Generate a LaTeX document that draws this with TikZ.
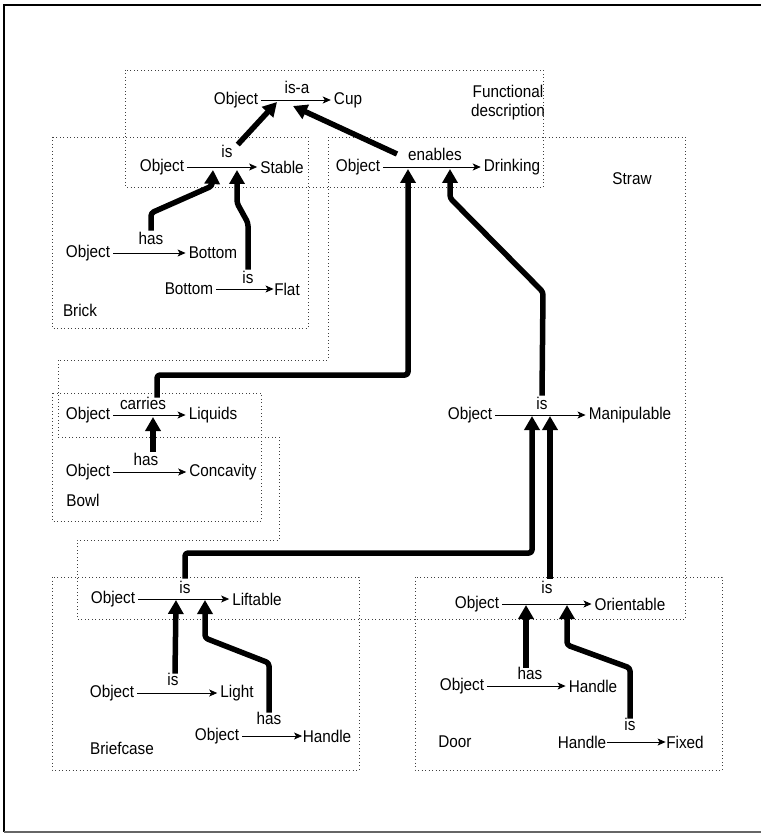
\documentclass[tikz,border=0pt]{standalone}
\usepackage{fontspec}
\setmainfont{Liberation Sans}[FakeStretch=0.9]
\usetikzlibrary{arrows.meta}
\tikzset{
  txt/.style={font=\fontsize{17}{19}\selectfont, inner xsep=3pt, inner ysep=2pt},
  tight/.style={txt, inner xsep=0.5pt},
  lbl/.style={font=\fontsize{17}{19}\selectfont, inner sep=1pt},
  thinarrow/.style={-{Stealth[length=8pt,width=7pt,inset=2pt]}, line width=0.8pt},
  thickarrow/.style={-{Triangle[length=14pt,width=15pt]}, line width=5.5pt, line join=round, rounded corners=3pt},
  dotbox/.style={black!75, line width=0.8pt, dash pattern=on 0.9pt off 2.6pt},
}
\begin{document}
\begin{tikzpicture}[x=1pt,y=-1pt]
\useasboundingbox (0,0) rectangle (762,834);
% frame
\draw[line width=1.5pt] (4,832) -- (4,5) -- (761,5);
\draw[black!60, line width=1.2pt] (4,832) -- (761,832);

% dotted boxes
\draw[dotbox] (125,70) rectangle (543,187);
\draw[dotbox] (52,137) rectangle (308,328);
\draw[dotbox] (328,137) -- (685,137) -- (685,619) -- (77,619) -- (77,540) -- (279,540) -- (279,437) -- (58,437) -- (58,360) -- (328,360) -- cycle;
\draw[dotbox] (52,393) rectangle (261,521);
\draw[dotbox] (52,577) rectangle (359,770);
\draw[dotbox] (415,577) rectangle (722,770);

% functional description
\node[txt] (fo) at (236,100) {Object};
\node[txt] (fc) at (348,100) {Cup};
\node[lbl] (fl) at (297,87) {is-a};
\draw[thinarrow] (fo.east) -- (fc.west);
\node[lbl, align=center] (fd) at (508,103) {Functional\\description};
\coordinate (cupA) at (277,102);
\coordinate (cupB) at (293,106);

% stable
\node[txt] (so) at (162,167) {Object};
\node[txt] (st) at (282,167) {Stable};
\node[lbl] (sl) at (227,151) {is};
\draw[thinarrow] (so.east) -- (st.west);
\coordinate (stA) at (213,170);
\coordinate (stB) at (237,170);

% drinking
\node[txt] (dob) at (358,167) {Object};
\node[txt] (dr) at (512,167) {Drinking};
\node[lbl] (dl) at (435,154) {enables};
\draw[thinarrow] (dob.east) -- (dr.west);
\coordinate (drA) at (408,169);
\coordinate (drB) at (450,169);

\draw[thickarrow] ([xshift=4pt,yshift=-1pt]sl.north east) -- (cupA);
\draw[thickarrow] ([xshift=-10pt]dl.west) -- (cupB);

% brick
\node[txt] (bo1) at (88,253) {Object};
\node[txt] (bb1) at (213,253) {Bottom};
\node[lbl] (bh) at (151,238) {has};
\draw[thinarrow] (bo1.east) -- (bb1.west);
\node[txt] (bb2) at (189,289) {Bottom};
\node[tight] (bf) at (287,289) {Flat};
\node[lbl] (bi) at (248,277) {is};
\draw[thinarrow] (bb2.east) -- (bf.west);
\node[lbl] (brick) at (80,310) {Brick};
\draw[thickarrow] (bh.north) -- (151,213) -- (212,186) -- (stA);
\draw[thickarrow] (bi.north) -- (248,223) -- (237,203) -- (stB);

% bowl
\node[txt] (lo) at (88,415) {Object};
\node[txt] (lq) at (213,415) {Liquids};
\node[lbl] (lc) at (143,403) {carries};
\draw[thinarrow] (lo.east) -- (lq.west);
\coordinate (lqA) at (153,417);
\node[txt] (co) at (88,472) {Object};
\node[txt] (cc) at (223,472) {Concavity};
\node[lbl] (ch) at (146,459) {has};
\draw[thinarrow] (co.east) -- (cc.west);
\node[lbl] (bowl) at (83,500) {Bowl};
\draw[thickarrow] ([xshift=7pt]ch.north) -- (lqA);
\draw[thickarrow] ([xshift=14pt,yshift=-2pt]lc.north) -- (157,375) -- (408,375) -- (drA);

% straw
\node[lbl] (straw) at (632,179) {Straw};
\node[txt] (mo) at (470,415) {Object};
\node[txt] (mm) at (630,415) {Manipulable};
\node[lbl] (mi) at (542,403) {is};
\draw[thinarrow] (mo.east) -- (mm.west);
\coordinate (mA) at (532,416);
\coordinate (mB) at (550,416);
\draw[thickarrow] (mi.north) -- (543,292) -- (450,198) -- (drB);

% briefcase
\node[txt] (fo2) at (113,599) {Object};
\node[txt] (ft) at (257,599) {Liftable};
\node[lbl] (fi) at (185,587) {is};
\draw[thinarrow] (fo2.east) -- (ft.west);
\coordinate (ftA) at (176,600);
\coordinate (ftB) at (205,600);
\draw[thickarrow] ([yshift=1pt]fi.north) -- (185,553) -- (532,553) -- (mA);

\node[txt] (lo2) at (112,693) {Object};
\node[txt] (lg) at (237,693) {Light};
\node[lbl] (li) at (173,679) {is};
\draw[thinarrow] (lo2.east) -- (lg.west);
\draw[thickarrow] ([xshift=2pt,yshift=-2pt]li.north) -- (ftA);

\node[txt] (ho) at (217,736) {Object};
\node[tight] (hh) at (327,736) {Handle};
\node[lbl] (hl) at (269,718) {has};
\draw[thinarrow] (ho.east) -- (hh.west);
\draw[thickarrow] ([yshift=-2pt]hl.north) -- (269,663) -- (205,638) -- (ftB);
\node[lbl] (briefcase) at (122,748) {Briefcase};

% door
\node[txt] (oo) at (477,604) {Object};
\node[txt] (ot) at (630,604) {Orientable};
\node[lbl] (oi) at (547,587) {is};
\draw[thinarrow] (oo.east) -- (ot.west);
\coordinate (otA) at (526,605);
\coordinate (otB) at (567,605);
\draw[thickarrow] ([xshift=3pt,yshift=1pt]oi.north) -- (mB);

\node[txt] (dho) at (462,686) {Object};
\node[txt] (dhh) at (593,686) {Handle};
\node[lbl] (dhl) at (530,673) {has};
\draw[thinarrow] (dho.east) -- (dhh.west);
\draw[thickarrow] ([xshift=-4pt,yshift=-2pt]dhl.north) -- (otA);

\node[tight] (fh) at (582,742) {Handle};
\node[tight] (fx) at (685,742) {Fixed};
\node[lbl] (fxl) at (630,724) {is};
\draw[thinarrow] (fh.east) -- (fx.west);
\draw[thickarrow] ([yshift=-2pt]fxl.north) -- (630,668) -- (567,645) -- (otB);
\node[lbl] (door) at (455,742) {Door};
\end{tikzpicture}
\end{document}
